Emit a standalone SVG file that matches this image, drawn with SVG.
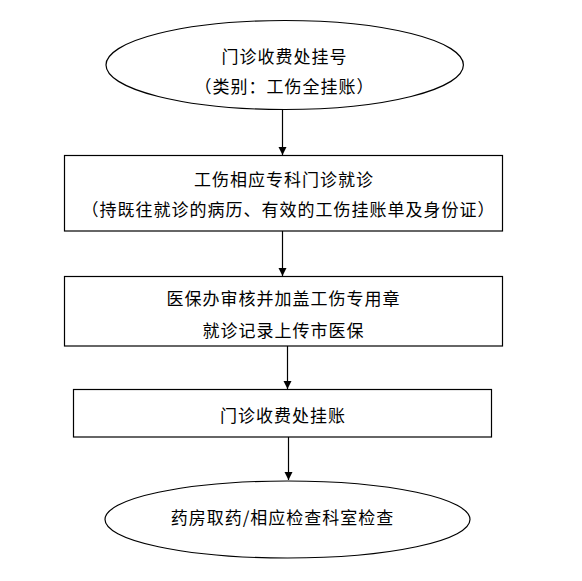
<svg xmlns="http://www.w3.org/2000/svg" width="582" height="581" viewBox="0 0 582 581">
<style>
.shape{fill:#fff;stroke:#000;stroke-width:1.2}
.t{font-family:"Noto Sans CJK SC","Liberation Sans",sans-serif;font-size:17px;letter-spacing:1px;text-anchor:middle;fill:#000}
.c{stroke:#000;stroke-width:1.2;fill:none;marker-end:url(#ah)}
</style>
<defs>
<marker id="ah" markerWidth="8" markerHeight="10" viewBox="0 0 8 10" refX="8" refY="5" orient="auto" markerUnits="userSpaceOnUse">
<path d="M0,1 L8,5 L0,9 Z" fill="#000"/>
</marker>
</defs>
<rect width="582" height="581" fill="#fff"/>
<g id="connectors">
<line class="c" x1="282.5" y1="110" x2="282.5" y2="155"/>
<line class="c" x1="282.5" y1="231" x2="282.5" y2="276"/>
<line class="c" x1="287.5" y1="346" x2="287.5" y2="389"/>
<line class="c" x1="288.5" y1="437" x2="288.5" y2="480"/>
</g>
<g id="n1">
<ellipse class="shape" cx="284.7" cy="65" rx="178.7" ry="44.5"/>
<text class="t" x="284.5" y="63">门诊收费处挂号</text>
<text class="t" x="284.5" y="93">（类别：工伤全挂账）</text>
</g>
<g id="n2">
<rect class="shape" x="64.5" y="155.5" width="438" height="75.5"/>
<text class="t" x="284" y="186">工伤相应专科门诊就诊</text>
<text class="t" x="288.5" y="216">（持既往就诊的病历、有效的工伤挂账单及身份证）</text>
</g>
<g id="n3">
<rect class="shape" x="64.5" y="276.5" width="438" height="69.5"/>
<text class="t" x="283.5" y="305">医保办审核并加盖工伤专用章</text>
<text class="t" x="283.5" y="337">就诊记录上传市医保</text>
</g>
<g id="n4">
<rect class="shape" x="73.5" y="389.5" width="418" height="47.5"/>
<text class="t" x="283" y="422">门诊收费处挂账</text>
</g>
<g id="n5">
<ellipse class="shape" cx="287.5" cy="519.5" rx="182.5" ry="38.5"/>
<text class="t" x="282.5" y="524">药房取药/相应检查科室检查</text>
</g>
</svg>
